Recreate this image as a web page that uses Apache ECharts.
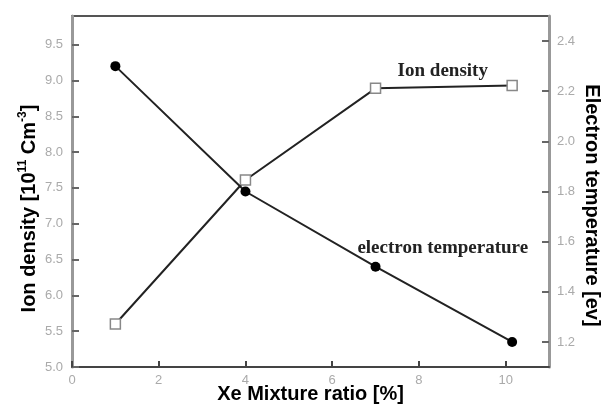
<!DOCTYPE html>
<html>
<head>
<meta charset="utf-8">
<script src="https://cdn.jsdelivr.net/npm/echarts@6/dist/echarts.min.js"></script>
<style>
  html, body { margin: 0; padding: 0; background: #fff; }
  #chart { width: 602px; height: 408px; }
</style>
</head>
<body>
<div id="chart"></div>
<script>
// Xe mixture ratio [%]
const xeRatio = [1, 4, 7, 10.15];
// ion density [10^11 cm^-3], left axis
const ionDensity = [5.6, 7.61, 8.89, 8.93];
// electron temperature [eV], right axis
const electronTemp = [2.3, 1.8, 1.5, 1.2];

const xTicks = [0, 2, 4, 6, 8, 10];
const leftTicks = [5.0, 5.5, 6.0, 6.5, 7.0, 7.5, 8.0, 8.5, 9.0, 9.5];
const rightTicks = [1.2, 1.4, 1.6, 1.8, 2.0, 2.2, 2.4];

// curve labels, placed in left-axis data coords
const notes = [
  { text: "Ion density", x: 8.55, y: 9.13 },
  { text: "electron temperature", x: 8.55, y: 6.66 },
];

const chart = echarts.init(document.getElementById("chart"));

const labelStyle = { color: "#aaa", fontSize: 13, fontFamily: "Liberation Sans" };
const titleStyle = { color: "#000", fontSize: 20, fontWeight: "bold", fontFamily: "Liberation Sans", letterSpacing: 0.7 };

const option = {
  animation: false,
  grid: {
    left: 72,
    right: 53,
    top: 16,
    bottom: 41,
    outerBoundsMode: "none",
    containLabel: false,
    show: true,
    borderColor: "#555",
    borderWidth: 2,
  },
  xAxis: {
    type: "value",
    min: 0,
    max: 11,
    name: "Xe Mixture ratio [%]",
    nameLocation: "middle",
    nameGap: 17,
    nameMoveOverlap: false,
    nameTextStyle: titleStyle,
    axisLine: { lineStyle: { color: "#444", width: 2 } },
    axisTick: { inside: true, length: 6, lineStyle: { color: "#444", width: 2 }, customValues: xTicks },
    axisLabel: Object.assign({ margin: 7, customValues: xTicks }, labelStyle),
    splitLine: { show: false },
  },
  yAxis: [
    {
      type: "value",
      min: 5,
      max: 9.9,
      name: "{t|Ion density [10}{s|11}{t| Cm}{s|-3}{t|]}",
      nameLocation: "middle",
      nameGap: 33,
      nameMoveOverlap: false,
      nameTextStyle: {
        padding: [0, 34, 0, 0],
        rich: {
          t: Object.assign({ verticalAlign: "bottom", lineHeight: 22 }, titleStyle),
          s: { fontSize: 12, fontWeight: "bold", color: "#000", fontFamily: "Liberation Sans", verticalAlign: "top", lineHeight: 22 },
        },
      },
      axisLine: { show: true, lineStyle: { color: "#999", width: 3 } },
      axisTick: { inside: true, length: 7, lineStyle: { color: "#666", width: 2 }, customValues: leftTicks },
      axisLabel: Object.assign({
        margin: 9,
        customValues: leftTicks,
        formatter: (v) => v.toFixed(1),
      }, labelStyle),
      splitLine: { show: false },
    },
    {
      type: "value",
      min: 1.1,
      max: 2.5,
      position: "right",
      name: "Electron temperature [ev]",
      nameLocation: "middle",
      nameRotate: -90,
      nameGap: 33,
      nameMoveOverlap: false,
      nameTextStyle: Object.assign({ padding: [0, 0, 0, 28] }, titleStyle),
      axisLine: { show: true, lineStyle: { color: "#999", width: 3 } },
      axisTick: { inside: true, length: 7, lineStyle: { color: "#666", width: 2 }, customValues: rightTicks },
      axisLabel: Object.assign({
        margin: 8,
        customValues: rightTicks,
        formatter: (v) => v.toFixed(1),
      }, labelStyle),
      splitLine: { show: false },
    },
  ],
  series: [
    {
      name: "Ion density",
      type: "line",
      yAxisIndex: 0,
      data: xeRatio.map((x, i) => [x, ionDensity[i]]),
      symbol: "rect",
      symbolSize: 10,
      itemStyle: { color: "#fff", borderColor: "#888", borderWidth: 1.5 },
      lineStyle: { color: "#222", width: 2 },
      markPoint: {
        symbol: "circle",
        symbolSize: 0,
        label: {
          show: true,
          position: "inside",
          color: "#222",
          fontSize: 19,
          fontWeight: "bold",
          fontFamily: "Liberation Serif",
          formatter: (p) => p.name,
        },
        data: notes.map((n) => ({ name: n.text, coord: [n.x, n.y] })),
      },
      z: 2,
    },
    {
      name: "Electron temperature",
      type: "line",
      yAxisIndex: 1,
      data: xeRatio.map((x, i) => [x, electronTemp[i]]),
      symbol: "circle",
      symbolSize: 10,
      itemStyle: { color: "#000" },
      lineStyle: { color: "#222", width: 2 },
      z: 3,
    },
  ],
};

chart.setOption(option);
</script>
</body>
</html>
